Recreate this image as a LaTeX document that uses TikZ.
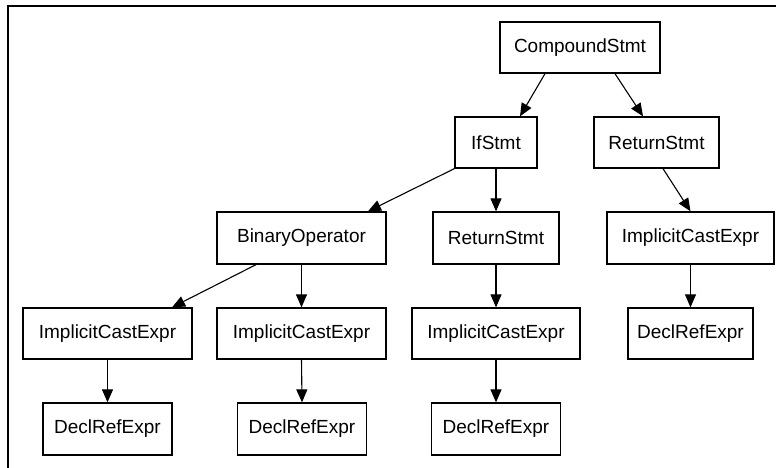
\documentclass[tikz,border=0pt]{standalone}
\usepackage{fontspec}
\setmainfont{Liberation Sans}
\usetikzlibrary{arrows.meta,calc}
\tikzset{
  box/.style={draw=black, line width=1.3pt, rectangle, inner sep=0pt,
    minimum height=51pt, font=\fontsize{19}{23}\selectfont},
  arr/.style={draw=black, line width=1.1pt, -{Triangle[length=13pt,width=11pt]}},
  frame/.style={draw=black, line width=1.8pt}
}
\begin{document}
\begin{tikzpicture}[x=1pt,y=-1pt]
\useasboundingbox (0,0) rectangle (776,468);
\coordinate (fa) at (8,470);
\coordinate (fb) at (8,6);
\coordinate (fc) at (778,6);
\draw[frame] (fa) -- (fb) -- (fc);

\node[box, minimum width=160pt] (cs) at (580,47.5) {CompoundStmt};
\node[box, minimum width=82pt] (if) at (496,142.5) {IfStmt};
\node[box, minimum width=125pt] (rsa) at (656.5,142.5) {ReturnStmt};
\node[box, minimum width=169pt, minimum height=52pt] (bo) at (301.5,238) {BinaryOperator};
\node[box, minimum width=126pt, minimum height=52pt] (rsb) at (496,238) {ReturnStmt};
\node[box, minimum width=167pt, minimum height=52pt] (icd) at (690.5,238) {ImplicitCastExpr};
\node[box, minimum width=169pt] (ica) at (107.5,333.5) {ImplicitCastExpr};
\node[box, minimum width=169pt] (icb) at (301.5,333.5) {ImplicitCastExpr};
\node[box, minimum width=168pt] (icc) at (496,333.5) {ImplicitCastExpr};
\node[box, minimum width=125pt] (drd) at (690.5,333.5) {DeclRefExpr};
\node[box, minimum width=129pt, minimum height=52pt] (dra) at (107.5,429) {DeclRefExpr};
\node[box, minimum width=129pt, minimum height=52pt] (drb) at (302,429) {DeclRefExpr};
\node[box, minimum width=129pt, minimum height=52pt] (drc) at (496,429) {DeclRefExpr};

\draw[arr] ([xshift=-35pt]cs.south) -- ([xshift=24pt]if.north);
\draw[arr] ([xshift=35pt]cs.south) -- ([xshift=-13.5pt]rsa.north);
\draw[arr] (if.south west) -- ([xshift=66.5pt]bo.north);
\draw[arr] (if.south) -- (rsb.north);
\draw[arr] ([xshift=6.5pt]rsa.south) -- (icd.north);
\draw[arr] ([xshift=-45.5pt]bo.south) -- ([xshift=64.5pt]ica.north);
\draw[arr] (bo.south) -- (icb.north);
\draw[arr] (rsb.south) -- (icc.north);
\draw[arr] (icd.south) -- (drd.north);
\draw[arr] (ica.south) -- (dra.north);
\draw[arr] (icb.south) -- (drb.north);
\draw[arr] (icc.south) -- (drc.north);
\end{tikzpicture}
\end{document}
